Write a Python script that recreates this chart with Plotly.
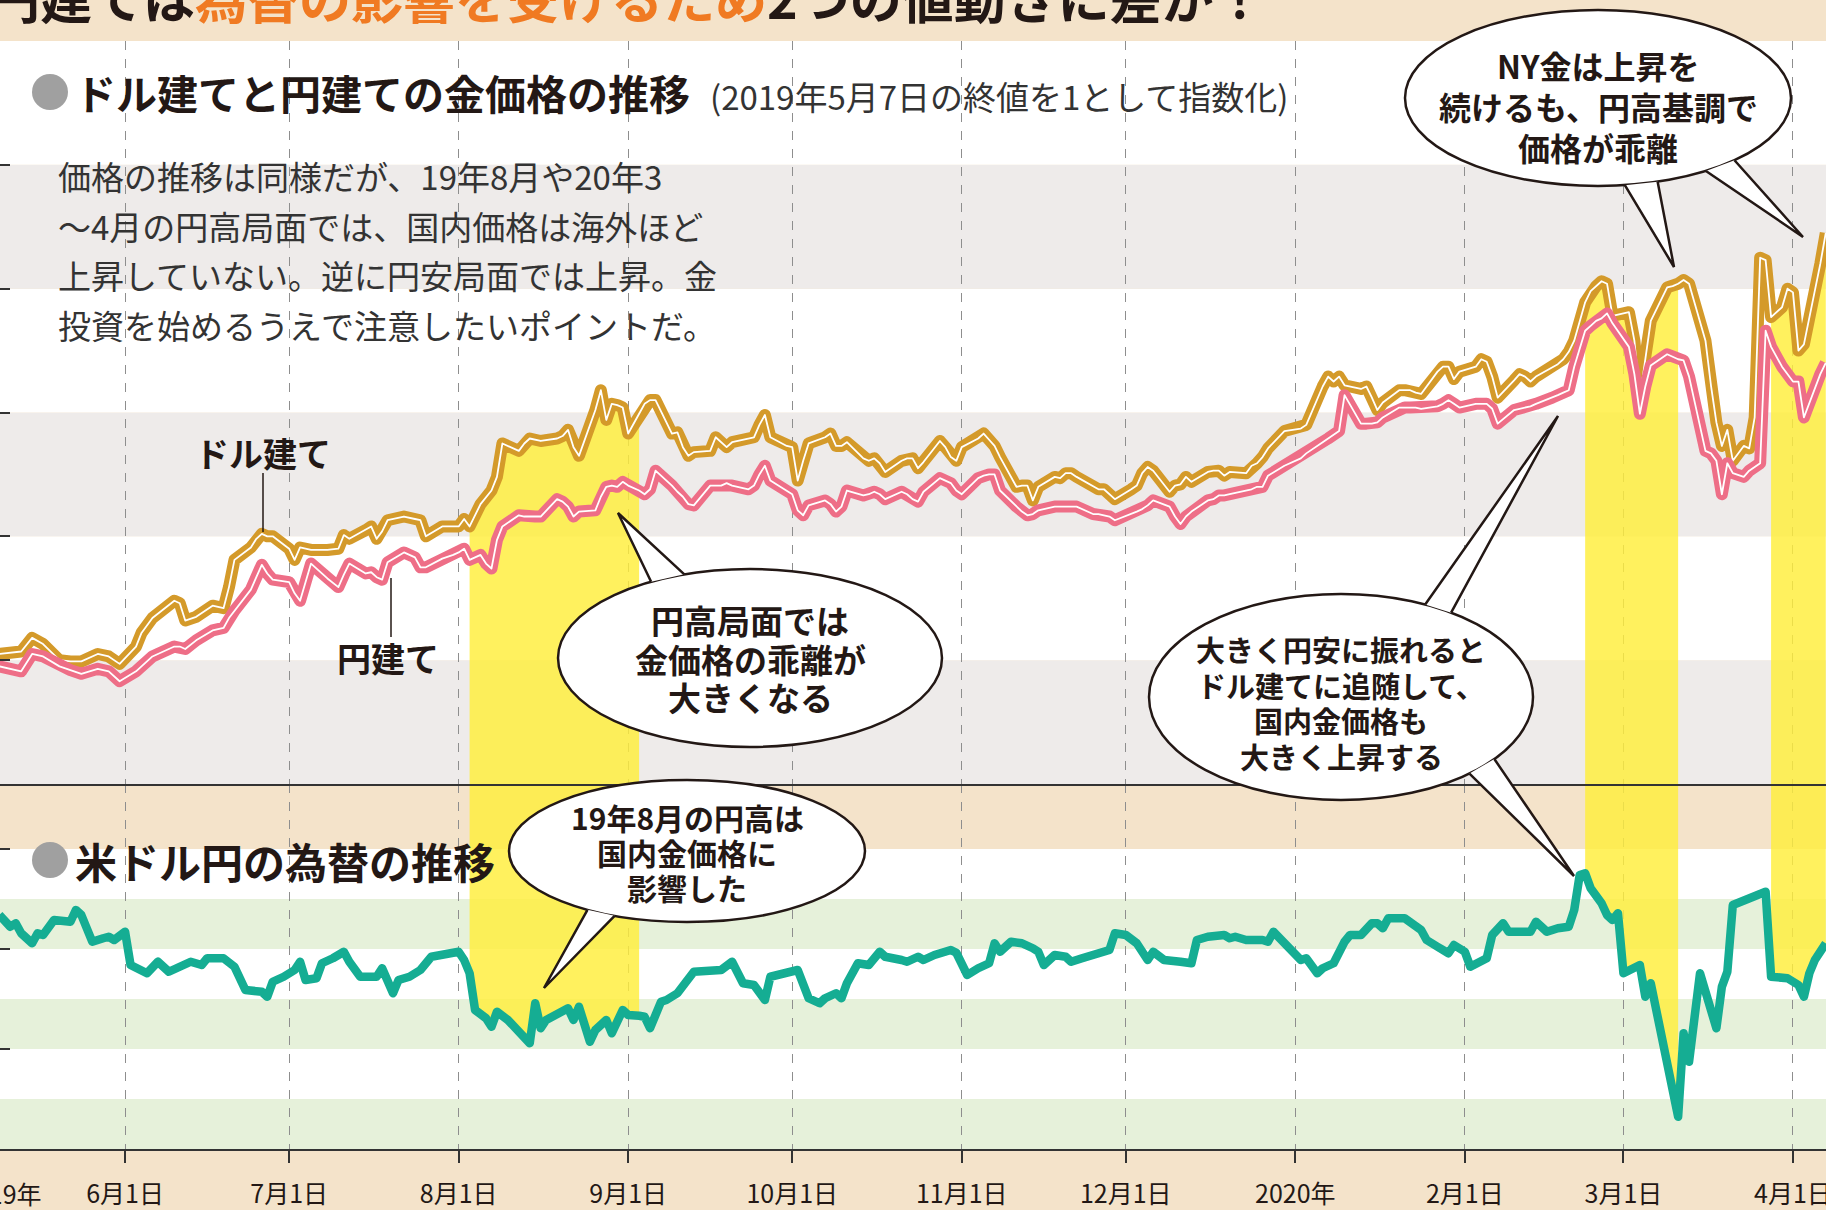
import math
import plotly.graph_objects as go

W, H = 1826, 1210

# --- gold price index (close of 2019-05-07 = 1) ---
price_dates = [
    "2019-05-07", "2019-05-09", "2019-05-13", "2019-05-15", "2019-05-17", "2019-05-20", "2019-05-22",
    "2019-05-24", "2019-05-27", "2019-05-29", "2019-05-31",
    "2019-06-03", "2019-06-04", "2019-06-06", "2019-06-10", "2019-06-11", "2019-06-12", "2019-06-14",
    "2019-06-17", "2019-06-19", "2019-06-20", "2019-06-21", "2019-06-24", "2019-06-25", "2019-06-26",
    "2019-06-27", "2019-06-28",
    "2019-07-01", "2019-07-02", "2019-07-03", "2019-07-05", "2019-07-08", "2019-07-10", "2019-07-11",
    "2019-07-12", "2019-07-15", "2019-07-16", "2019-07-17", "2019-07-18", "2019-07-19", "2019-07-22",
    "2019-07-24", "2019-07-25", "2019-07-26", "2019-07-29", "2019-07-31",
    "2019-08-01", "2019-08-02", "2019-08-03", "2019-08-05", "2019-08-06", "2019-08-07", "2019-08-08",
    "2019-08-09", "2019-08-12", "2019-08-13", "2019-08-14", "2019-08-15", "2019-08-16", "2019-08-19",
    "2019-08-20", "2019-08-21", "2019-08-22", "2019-08-23", "2019-08-26", "2019-08-27", "2019-08-28",
    "2019-08-29", "2019-08-30", "2019-08-31",
    "2019-09-01", "2019-09-03", "2019-09-04", "2019-09-05", "2019-09-06", "2019-09-09", "2019-09-10",
    "2019-09-11", "2019-09-12", "2019-09-13", "2019-09-16", "2019-09-17", "2019-09-18", "2019-09-19",
    "2019-09-20", "2019-09-23", "2019-09-24", "2019-09-25", "2019-09-26", "2019-09-27", "2019-09-30",
    "2019-10-01", "2019-10-02", "2019-10-03", "2019-10-04", "2019-10-07", "2019-10-08", "2019-10-09",
    "2019-10-10", "2019-10-11", "2019-10-14", "2019-10-15", "2019-10-16", "2019-10-17", "2019-10-18",
    "2019-10-21", "2019-10-22", "2019-10-23", "2019-10-24", "2019-10-25", "2019-10-28", "2019-10-29",
    "2019-10-30", "2019-10-31",
    "2019-11-01", "2019-11-04", "2019-11-05", "2019-11-06", "2019-11-07", "2019-11-08", "2019-11-11",
    "2019-11-12", "2019-11-13", "2019-11-14", "2019-11-15", "2019-11-18", "2019-11-19", "2019-11-20",
    "2019-11-21", "2019-11-22", "2019-11-25", "2019-11-26", "2019-11-27", "2019-11-28", "2019-11-29",
    "2019-12-02", "2019-12-03", "2019-12-04", "2019-12-05", "2019-12-06", "2019-12-09", "2019-12-10",
    "2019-12-11", "2019-12-12", "2019-12-13", "2019-12-16", "2019-12-17", "2019-12-18", "2019-12-19",
    "2019-12-20", "2019-12-23", "2019-12-24", "2019-12-25", "2019-12-26", "2019-12-27", "2019-12-30",
    "2020-01-02", "2020-01-03", "2020-01-06", "2020-01-07", "2020-01-08", "2020-01-09", "2020-01-10",
    "2020-01-13", "2020-01-14", "2020-01-15", "2020-01-16", "2020-01-17", "2020-01-20", "2020-01-21",
    "2020-01-22", "2020-01-23", "2020-01-24", "2020-01-27", "2020-01-28", "2020-01-29", "2020-01-30",
    "2020-01-31",
    "2020-02-03", "2020-02-04", "2020-02-05", "2020-02-06", "2020-02-07", "2020-02-10", "2020-02-11",
    "2020-02-12", "2020-02-13", "2020-02-14", "2020-02-17", "2020-02-18", "2020-02-19", "2020-02-20",
    "2020-02-21", "2020-02-23", "2020-02-24", "2020-02-25", "2020-02-26", "2020-02-27", "2020-02-28",
    "2020-03-02", "2020-03-03", "2020-03-04", "2020-03-05", "2020-03-06", "2020-03-09", "2020-03-10",
    "2020-03-11", "2020-03-12", "2020-03-13", "2020-03-16", "2020-03-17", "2020-03-18", "2020-03-19",
    "2020-03-20", "2020-03-21", "2020-03-23", "2020-03-24", "2020-03-25", "2020-03-26", "2020-03-27",
    "2020-03-28", "2020-03-30", "2020-03-31",
    "2020-04-01", "2020-04-02", "2020-04-03", "2020-04-06", "2020-04-07",
]

# ドル建て (NY gold, USD)
gold_usd = [
    1.000, 1.005, 1.007, 1.018, 1.013, 1.000, 0.999, 0.999, 1.005, 1.003, 0.997,
    1.011, 1.022, 1.034, 1.048, 1.046, 1.032, 1.035, 1.044, 1.042, 1.059, 1.081, 1.091, 1.098, 1.102,
    1.100, 1.100,
    1.090, 1.081, 1.091, 1.089, 1.089, 1.090, 1.101, 1.098, 1.105, 1.108, 1.098, 1.104, 1.113, 1.116,
    1.114, 1.113, 1.100, 1.108, 1.108,
    1.108, 1.114, 1.108, 1.126, 1.132, 1.137, 1.148, 1.175, 1.169, 1.175, 1.179, 1.178, 1.177, 1.179,
    1.181, 1.186, 1.172, 1.165, 1.202, 1.218, 1.194, 1.207, 1.206, 1.204,
    1.183, 1.199, 1.207, 1.210, 1.210, 1.183, 1.184, 1.172, 1.165, 1.168, 1.169, 1.180, 1.176, 1.172,
    1.176, 1.179, 1.180, 1.190, 1.198, 1.180, 1.173,
    1.172, 1.145, 1.161, 1.175, 1.180, 1.183, 1.173, 1.173, 1.176, 1.163, 1.161, 1.163, 1.159, 1.152,
    1.161, 1.163, 1.163, 1.155, 1.160, 1.177, 1.172, 1.164, 1.161,
    1.172, 1.179, 1.183, 1.178, 1.173, 1.164, 1.140, 1.141, 1.141, 1.129, 1.140, 1.148, 1.147, 1.151,
    1.151, 1.148, 1.140, 1.138, 1.138, 1.134, 1.130,
    1.138, 1.141, 1.151, 1.156, 1.153, 1.136, 1.141, 1.142, 1.148, 1.144, 1.152, 1.153, 1.153, 1.149,
    1.152, 1.151, 1.157, 1.159, 1.164, 1.171, 1.185,
    1.187, 1.190, 1.221, 1.229, 1.225, 1.229, 1.222, 1.219, 1.221, 1.212, 1.202, 1.208, 1.218, 1.218,
    1.218, 1.216, 1.215, 1.233, 1.237, 1.237, 1.227, 1.233,
    1.237, 1.243, 1.241, 1.229, 1.212, 1.226, 1.231, 1.229, 1.225, 1.229, 1.237, 1.239, 1.243, 1.249,
    1.258, 1.289, 1.298, 1.302, 1.306, 1.304, 1.278,
    1.281, 1.258, 1.212, 1.245, 1.274, 1.301, 1.302, 1.304, 1.307, 1.304, 1.258, 1.222, 1.192, 1.173,
    1.186, 1.161, 1.173, 1.171, 1.196, 1.325, 1.323, 1.277, 1.285, 1.300,
    1.297, 1.250, 1.255, 1.320, 1.345,
]

# 円建て (domestic gold, JPY)
gold_jpy = [
    1.000, 0.995, 0.991, 1.005, 1.003, 0.995, 0.992, 0.989, 0.993, 0.991, 0.983,
    0.991, 0.995, 1.003, 1.011, 1.011, 1.009, 1.016, 1.024, 1.026, 1.034, 1.040, 1.057, 1.067, 1.077,
    1.070, 1.065,
    1.063, 1.054, 1.048, 1.078, 1.066, 1.059, 1.069, 1.078, 1.070, 1.071, 1.067, 1.065, 1.079, 1.087,
    1.083, 1.075, 1.075, 1.082, 1.085,
    1.087, 1.090, 1.081, 1.085, 1.078, 1.074, 1.097, 1.108, 1.117, 1.116, 1.116, 1.116, 1.116, 1.130,
    1.128, 1.124, 1.116, 1.120, 1.121, 1.132, 1.140, 1.141, 1.140, 1.144,
    1.141, 1.137, 1.134, 1.138, 1.153, 1.141, 1.136, 1.132, 1.126, 1.125, 1.141, 1.141, 1.141, 1.143,
    1.141, 1.138, 1.141, 1.150, 1.157, 1.145, 1.137,
    1.134, 1.121, 1.117, 1.125, 1.129, 1.126, 1.120, 1.124, 1.137, 1.133, 1.134, 1.136, 1.134, 1.130,
    1.136, 1.134, 1.130, 1.128, 1.136, 1.147, 1.145, 1.143, 1.137,
    1.134, 1.147, 1.149, 1.150, 1.150, 1.137, 1.124, 1.120, 1.117, 1.118, 1.121, 1.124, 1.124, 1.124,
    1.124, 1.124, 1.118, 1.118, 1.117, 1.116, 1.113,
    1.118, 1.120, 1.122, 1.125, 1.129, 1.124, 1.116, 1.110, 1.116, 1.120, 1.129, 1.130, 1.133, 1.133,
    1.134, 1.137, 1.138, 1.140, 1.140, 1.149, 1.157,
    1.163, 1.167, 1.176, 1.179, 1.182, 1.185, 1.214, 1.191, 1.191, 1.191, 1.192, 1.196, 1.204, 1.204,
    1.204, 1.204, 1.203, 1.205, 1.207, 1.210, 1.207, 1.204,
    1.207, 1.207, 1.207, 1.203, 1.191, 1.202, 1.203, 1.204, 1.205, 1.207, 1.212, 1.214, 1.216, 1.218,
    1.237, 1.266, 1.270, 1.274, 1.276, 1.280, 1.272,
    1.253, 1.231, 1.199, 1.221, 1.238, 1.247, 1.245, 1.243, 1.242, 1.229, 1.169, 1.167, 1.161, 1.134,
    1.159, 1.151, 1.148, 1.153, 1.156, 1.159, 1.266, 1.253, 1.237, 1.231,
    1.225, 1.225, 1.196, 1.231, 1.240,
]

# --- USD/JPY ---
fx_dates = [
    "2019-05-09", "2019-05-11", "2019-05-12", "2019-05-13", "2019-05-15", "2019-05-16", "2019-05-17",
    "2019-05-19", "2019-05-22", "2019-05-23", "2019-05-24", "2019-05-26", "2019-05-28", "2019-05-29",
    "2019-05-30",
    "2019-06-01", "2019-06-02", "2019-06-04", "2019-06-05", "2019-06-07", "2019-06-09", "2019-06-11",
    "2019-06-13", "2019-06-15", "2019-06-16", "2019-06-19", "2019-06-21", "2019-06-23", "2019-06-25",
    "2019-06-26", "2019-06-27", "2019-06-28", "2019-06-30",
    "2019-07-02", "2019-07-03", "2019-07-04", "2019-07-06", "2019-07-07", "2019-07-09", "2019-07-11",
    "2019-07-12", "2019-07-14", "2019-07-17", "2019-07-18", "2019-07-20", "2019-07-21", "2019-07-23",
    "2019-07-25", "2019-07-27", "2019-07-30",
    "2019-08-01", "2019-08-02", "2019-08-03", "2019-08-04", "2019-08-06", "2019-08-07", "2019-08-08",
    "2019-08-10", "2019-08-12", "2019-08-13", "2019-08-14", "2019-08-15", "2019-08-16", "2019-08-17",
    "2019-08-20", "2019-08-21", "2019-08-22", "2019-08-23", "2019-08-25", "2019-08-26", "2019-08-28",
    "2019-08-29", "2019-08-31",
    "2019-09-01", "2019-09-03", "2019-09-04", "2019-09-05", "2019-09-07", "2019-09-08", "2019-09-10",
    "2019-09-13", "2019-09-16", "2019-09-18", "2019-09-20", "2019-09-22", "2019-09-24", "2019-09-26",
    "2019-09-27", "2019-09-29",
    "2019-10-02", "2019-10-04", "2019-10-06", "2019-10-07", "2019-10-09", "2019-10-10", "2019-10-11",
    "2019-10-13", "2019-10-15", "2019-10-17", "2019-10-18", "2019-10-21", "2019-10-22", "2019-10-24",
    "2019-10-25", "2019-10-27", "2019-10-30", "2019-10-31",
    "2019-11-02", "2019-11-04", "2019-11-06", "2019-11-07", "2019-11-08", "2019-11-10", "2019-11-12",
    "2019-11-14", "2019-11-15", "2019-11-16", "2019-11-18", "2019-11-20", "2019-11-21", "2019-11-23",
    "2019-11-25", "2019-11-28", "2019-11-29",
    "2019-12-01", "2019-12-03", "2019-12-05", "2019-12-06", "2019-12-08", "2019-12-11", "2019-12-13",
    "2019-12-14", "2019-12-16", "2019-12-19", "2019-12-20", "2019-12-21", "2019-12-23", "2019-12-26",
    "2019-12-27", "2019-12-28", "2019-12-30",
    "2020-01-01", "2020-01-02", "2020-01-03", "2020-01-05", "2020-01-06", "2020-01-08", "2020-01-10",
    "2020-01-11", "2020-01-13", "2020-01-15", "2020-01-16", "2020-01-17", "2020-01-18", "2020-01-21",
    "2020-01-24", "2020-01-25", "2020-01-27", "2020-01-29", "2020-01-30",
    "2020-02-01", "2020-02-02", "2020-02-05", "2020-02-06", "2020-02-08", "2020-02-09", "2020-02-13",
    "2020-02-14", "2020-02-16", "2020-02-18", "2020-02-20", "2020-02-21", "2020-02-22", "2020-02-23",
    "2020-02-24", "2020-02-26", "2020-02-27", "2020-02-28", "2020-02-29",
    "2020-03-01", "2020-03-04", "2020-03-05", "2020-03-06", "2020-03-11", "2020-03-12", "2020-03-13",
    "2020-03-15", "2020-03-18", "2020-03-19", "2020-03-20", "2020-03-21", "2020-03-27", "2020-03-28",
    "2020-03-31",
    "2020-04-02", "2020-04-03", "2020-04-04", "2020-04-05", "2020-04-06", "2020-04-07",
]

usdjpy = [
    110.36, 109.89, 110.03, 109.63, 109.23, 109.63, 109.56, 110.16, 110.09, 110.56, 110.36, 109.29,
    109.43, 109.49, 109.36,
    109.69, 108.36, 108.09, 108.03, 108.49, 108.09, 108.29, 108.49, 108.36, 108.63, 108.63, 108.29,
    107.36, 107.36, 107.29, 107.09, 107.69, 107.89,
    108.16, 108.49, 107.76, 107.83, 108.43, 108.63, 108.89, 108.49, 107.89, 107.89, 108.23, 107.23,
    107.76, 107.89, 108.16, 108.69, 108.83,
    108.89, 108.56, 108.03, 106.56, 106.23, 105.89, 106.49, 106.16, 105.63, 105.43, 105.23, 106.83,
    105.83, 106.16, 106.56, 106.63, 106.16, 106.69, 105.29, 105.76, 106.16, 105.63, 106.56,
    106.36, 106.33, 106.29, 105.83, 106.89, 106.96, 107.23, 108.09, 108.16, 108.16, 108.49, 107.63,
    107.56, 106.96, 107.89, 108.03,
    108.16, 107.03, 106.83, 107.03, 107.23, 107.03, 107.63, 108.43, 108.36, 108.89, 108.69, 108.56,
    108.49, 108.69, 108.56, 108.76, 108.96, 108.85,
    107.96, 108.23, 108.43, 109.23, 108.89, 109.29, 109.23, 109.03, 108.89, 108.36, 108.76, 108.69,
    108.49, 108.63, 108.76, 108.96, 109.63,
    109.56, 109.23, 108.56, 108.89, 108.56, 108.49, 108.43, 109.36, 109.49, 109.56, 109.43, 109.49,
    109.36, 109.36, 109.29, 109.69, 109.23,
    108.83, 108.56, 108.63, 108.03, 108.23, 108.43, 109.29, 109.56, 109.56, 110.03, 110.03, 109.83,
    110.23, 110.23, 109.76, 109.36, 109.09, 108.83, 109.16,
    108.89, 108.29, 108.63, 109.56, 110.03, 109.69, 109.69, 110.09, 109.69, 109.83, 109.89, 110.56,
    111.96, 112.03, 111.43, 110.83, 110.36, 110.16, 110.43,
    108.03, 108.36, 107.09, 107.63, 102.29, 105.63, 104.49, 108.03, 105.83, 107.49, 108.09, 110.76,
    111.29, 107.89, 107.83,
    107.56, 107.09, 108.03, 108.56, 108.96, 109.23,
]

tick_dates = ["2019-06-01", "2019-07-01", "2019-08-01", "2019-09-01", "2019-10-01", "2019-11-01",
              "2019-12-01", "2020-01-01", "2020-02-01", "2020-03-01", "2020-04-01"]
tick_text = ["6月1日", "7月1日", "8月1日", "9月1日", "10月1日", "11月1日", "12月1日",
             "2020年", "2月1日", "3月1日", "4月1日"]

# yen-strength periods marked in yellow
yen_periods = [("2019-08-03", "2019-09-03"), ("2020-02-23", "2020-03-11"), ("2020-03-28", "2020-04-07")]

GOLD = "#D49A2A"
PINK = "#EE6E87"
TEAL = "#15AD93"
YELLOW = "rgba(255,238,58,0.82)"
INK = "#231815"
FONT = "Noto Sans CJK JP"


def px(x):
    return x / W


def py(y):
    return 1 - y / H


def pick(dates, vals, start, end):
    keep = [(d, v) for d, v in zip(dates, vals) if start <= d <= end]
    return [d for d, _ in keep], [v for _, v in keep]


fig = go.Figure()

# yellow highlights: under the dollar line (top) and above the USD/JPY line (bottom)
for start, end in yen_periods:
    xs, ys = pick(price_dates, gold_usd, start, end)
    fig.add_trace(go.Scatter(x=xs, y=ys, xaxis="x2", yaxis="y", mode="lines",
                             line=dict(width=0), fill="tozeroy", fillcolor=YELLOW))
    xs, ys = pick(fx_dates, usdjpy, start, end)
    fig.add_trace(go.Scatter(x=xs, y=[130] * len(xs), xaxis="x", yaxis="y2", mode="lines",
                             line=dict(width=0)))
    fig.add_trace(go.Scatter(x=xs, y=ys, xaxis="x", yaxis="y2", mode="lines",
                             line=dict(width=0), fill="tonexty", fillcolor=YELLOW))

for vals, color in [(gold_usd, GOLD), (gold_jpy, PINK)]:
    fig.add_trace(go.Scatter(x=price_dates, y=vals, xaxis="x2", yaxis="y", mode="lines",
                             line=dict(color=color, width=12)))
    fig.add_trace(go.Scatter(x=price_dates, y=vals, xaxis="x2", yaxis="y", mode="lines",
                             line=dict(color="white", width=1.8)))

fig.add_trace(go.Scatter(x=fx_dates, y=usdjpy, xaxis="x", yaxis="y2", mode="lines",
                         line=dict(color=TEAL, width=8.5)))

shapes = []
annotations = []

# background bands
for lo in [0.9, 1.0, 1.1, 1.2, 1.3, 1.4]:
    col = "#EEEBEA" if round(lo * 10) % 2 == 1 else "white"
    shapes.append(dict(type="rect", xref="paper", yref="y", x0=0, x1=1, y0=lo, y1=lo + 0.1,
                       fillcolor=col, line_width=0, layer="below"))
for lo in [101, 103, 105, 107, 109, 111]:
    col = "#E6F1DA" if (lo - 101) % 4 == 0 else "white"
    shapes.append(dict(type="rect", xref="paper", yref="y2", x0=0, x1=1, y0=lo, y1=lo + 2,
                       fillcolor=col, line_width=0, layer="below"))


def text(t, x, y, size, bold=False, anchor="center", color=INK):
    annotations.append(dict(xref="paper", yref="paper", x=px(x), y=py(y), showarrow=False,
                            text=f"<b>{t}</b>" if bold else t, xanchor=anchor, yanchor="middle",
                            font=dict(family=FONT, size=size, color=color)))


def bubble(cx, cy, rx, ry, tails, lines, y0, step, size):
    shapes.append(dict(type="circle", xref="paper", yref="paper",
                       x0=px(cx - rx), x1=px(cx + rx), y0=py(cy + ry), y1=py(cy - ry),
                       fillcolor="white", line=dict(color=INK, width=2.5)))
    for a1, a2, tx, ty in tails:
        p1 = (cx + rx * math.cos(math.radians(a1)), cy + ry * math.sin(math.radians(a1)))
        p2 = (cx + rx * math.cos(math.radians(a2)), cy + ry * math.sin(math.radians(a2)))
        path = (f"M{px(p1[0])},{py(p1[1])} L{px(tx)},{py(ty)} L{px(p2[0])},{py(p2[1])}")
        shapes.append(dict(type="path", xref="paper", yref="paper", path=path,
                           fillcolor="white", line=dict(color=INK, width=2.5)))
    for i, t in enumerate(lines):
        text(t, cx, y0 + i * step, size, bold=True)


# top headline (cut off by the frame)
text('円建ては<span style="color:#F07A22">為替の影響を受けるため</span>2つの値動きに差が！',
     -14, -4, 52, bold=True, anchor="left")

# section headings
for cy in [92, 860]:
    shapes.append(dict(type="circle", xref="paper", yref="paper", x0=px(32), x1=px(68),
                       y0=py(cy + 18), y1=py(cy - 18), fillcolor="#A0A0A0", line_width=0))
text("ドル建てと円建ての金価格の推移", 73, 92, 41, bold=True, anchor="left")
text("(2019年5月7日の終値を1として指数化)", 708, 96, 33, anchor="left", color="#333")
text("米ドル円の為替の推移", 73, 860, 42, bold=True, anchor="left")

body = ["価格の推移は同様だが、19年8月や20年3",
        "〜4月の円高局面では、国内価格は海外ほど",
        "上昇していない。逆に円安局面では上昇。金",
        "投資を始めるうえで注意したいポイントだ。"]
for i, t in enumerate(body):
    text(t, 56, 176 + i * 49.5, 33, anchor="left", color="#333")

# line labels
text("ドル建て", 263, 452, 34, bold=True)
text("円建て", 388, 657, 34, bold=True)
shapes.append(dict(type="line", xref="paper", yref="paper", x0=px(263), x1=px(263),
                   y0=py(473), y1=py(532), line=dict(color=INK, width=1.5)))
shapes.append(dict(type="line", xref="paper", yref="paper", x0=px(391), x1=px(391),
                   y0=py(578), y1=py(637), line=dict(color=INK, width=1.5)))

# speech bubbles
bubble(1598, 98, 193, 88, [(72, 82, 1674, 267), (45, 56, 1803, 237)],
       ["NY金は上昇を", "続けるも、円高基調で", "価格が乖離"], 65, 41, 32)
bubble(750, 658, 192, 89, [(-121, -110, 618, 513)],
       ["円高局面では", "金価格の乖離が", "大きくなる"], 620, 38.5, 33)
bubble(687, 851, 178, 71, [(114, 124, 544, 988)],
       ["19年8月の円高は", "国内金価格に", "影響した"], 817, 35, 30)
bubble(1341, 697, 192, 103, [(-64, -55, 1558, 416), (37, 48, 1574, 876)],
       ["大きく円安に振れると", "ドル建てに追随して、", "国内金価格も", "大きく上昇する"],
       649, 35.7, 29)

# first date label, mostly outside the frame
text("2019年", 44, 1193, 25, anchor="right")

x_range = ["2019-05-09 03:00", "2020-04-07 01:00"]
grid = dict(type="date", range=x_range, tickvals=tick_dates, showgrid=True,
            gridcolor="#8E8E8E", gridwidth=1, griddash="dash", zeroline=False)

fig.update_layout(
    width=W, height=H, margin=dict(l=0, r=0, t=0, b=0),
    paper_bgcolor="#F4E3CA", plot_bgcolor="rgba(0,0,0,0)",
    showlegend=False, hovermode=False,
    font=dict(family=FONT, color=INK),
    xaxis=dict(**grid, anchor="y2", ticktext=tick_text, ticks="outside", ticklen=12,
               tickwidth=1.5, tickcolor="#333", showline=True, linecolor="#333", linewidth=1.5,
               tickfont=dict(family=FONT, size=25, color=INK), ticklabelstandoff=10,
               ticklabeloverflow="allow", automargin=False),
    xaxis2=dict(**grid, anchor="y", matches="x", showticklabels=False, ticks="",
                showline=True, linecolor="#333", linewidth=1.5),
    yaxis=dict(domain=[py(784), py(41)], range=[0.9, 1.5], anchor="x2", showgrid=False,
               zeroline=False, ticks="inside", ticklen=10, tickwidth=1.5, tickcolor="#333",
               tickvals=[1.0, 1.1, 1.2, 1.3, 1.4, 1.5], showticklabels=False),
    yaxis2=dict(domain=[py(1149), py(784)], range=[101, 115.6], anchor="x", showgrid=False,
                zeroline=False, ticks="inside", ticklen=10, tickwidth=1.5, tickcolor="#333",
                tickvals=[105, 109, 113], showticklabels=False),
    shapes=shapes, annotations=annotations,
)

fig.write_html(
    "out.html",
    config={"displayModeBar": False},
    post_script=("document.body.style.margin='0';"
                 "document.querySelectorAll('.scatterlayer .js-line').forEach("
                 "function(p){p.style.strokeLinejoin='round';});"),
)
